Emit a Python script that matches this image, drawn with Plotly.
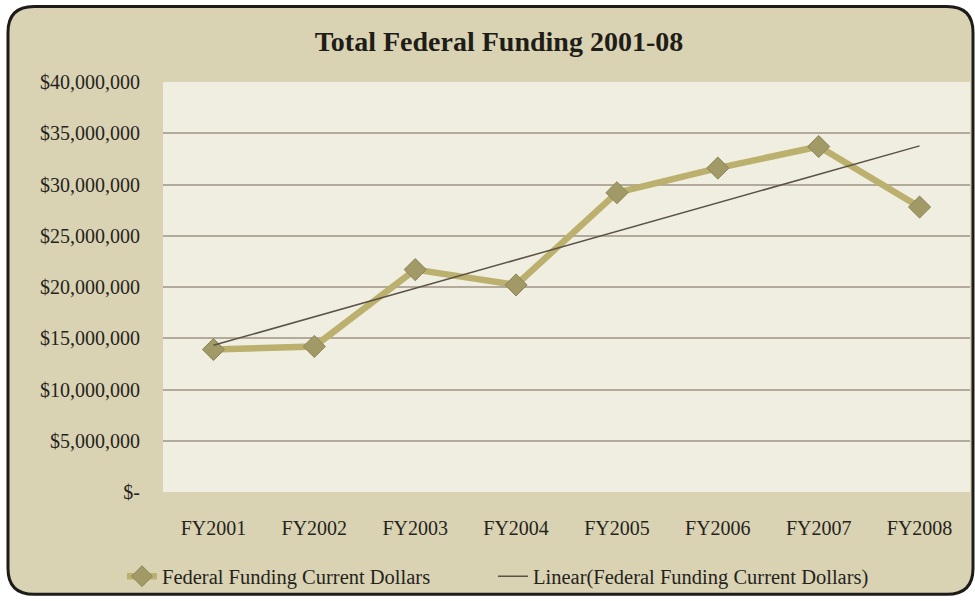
import plotly.graph_objects as go
import numpy as np

# data
years = ["FY2001", "FY2002", "FY2003", "FY2004", "FY2005", "FY2006", "FY2007", "FY2008"]
funding = [13900000, 14200000, 21700000, 20200000, 29200000, 31600000, 33700000, 27800000]
y_ticks = [0, 5000000, 10000000, 15000000, 20000000, 25000000, 30000000, 35000000, 40000000]
y_labels = ["$-", "$5,000,000", "$10,000,000", "$15,000,000", "$20,000,000",
            "$25,000,000", "$30,000,000", "$35,000,000", "$40,000,000"]

W, H = 975, 601
ML, MR, MT, MB = 163, 5, 82, 106
PW, PH = W - ML - MR, H - MT - MB

SERIF = "Liberation Serif, Times New Roman, serif"
INK = "#26231c"


def px(x, y):
    """pixel -> paper coords"""
    return (x - ML) / PW, (H - MB - y) / PH


def rounded_rect(x0, y0, x1, y1, r):
    pts = []
    a = px(x0 + r, y0); pts.append(f"M{a[0]},{a[1]}")
    a = px(x1 - r, y0); pts.append(f"L{a[0]},{a[1]}")
    c, e = px(x1, y0), px(x1, y0 + r); pts.append(f"Q{c[0]},{c[1]} {e[0]},{e[1]}")
    a = px(x1, y1 - r); pts.append(f"L{a[0]},{a[1]}")
    c, e = px(x1, y1), px(x1 - r, y1); pts.append(f"Q{c[0]},{c[1]} {e[0]},{e[1]}")
    a = px(x0 + r, y1); pts.append(f"L{a[0]},{a[1]}")
    c, e = px(x0, y1), px(x0, y1 - r); pts.append(f"Q{c[0]},{c[1]} {e[0]},{e[1]}")
    a = px(x0, y0 + r); pts.append(f"L{a[0]},{a[1]}")
    c, e = px(x0, y0), px(x0 + r, y0); pts.append(f"Q{c[0]},{c[1]} {e[0]},{e[1]}")
    pts.append("Z")
    return " ".join(pts)


# linear trendline (least squares over the series)
xi = np.arange(len(funding))
slope, icpt = np.polyfit(xi, funding, 1)
trend = slope * xi + icpt

fig = go.Figure()

fig.add_trace(go.Scatter(
    x=years, y=funding, name="Federal Funding Current Dollars",
    mode="lines+markers", legend="legend",
    line=dict(color="#bbb06e", width=6.5),
    marker=dict(symbol="diamond", size=17, color="#a29a66",
                line=dict(color="#8a8458", width=1)),
))
fig.add_trace(go.Scatter(
    x=years, y=trend, name="Linear(Federal Funding Current Dollars)",
    mode="lines", legend="legend2",
    line=dict(color="#5b5246", width=1.5),
))

leg_font = dict(family=SERIF, size=20.5, color=INK)
fig.update_layout(
    width=W, height=H,
    margin=dict(l=ML, r=MR, t=MT, b=MB),
    paper_bgcolor="white",
    plot_bgcolor="#efeee0",
    title=dict(text="<b>Total Federal Funding 2001-08</b>", x=499 / W, xanchor="center",
               y=1 - 41 / H, yanchor="middle", yref="container",
               font=dict(family=SERIF, size=28, color="#1f1d17")),
    font=dict(family=SERIF, color=INK),
    showlegend=True,
    legend=dict(orientation="h", x=px(122, 0)[0], xanchor="left", y=px(0, 580)[1],
                yanchor="middle", font=leg_font, bgcolor="rgba(0,0,0,0)"),
    legend2=dict(orientation="h", x=px(493, 0)[0], xanchor="left", y=px(0, 580)[1],
                 yanchor="middle", font=leg_font, bgcolor="rgba(0,0,0,0)"),
    shapes=[
        dict(type="path", xref="paper", yref="paper", layer="below",
             path=rounded_rect(8, 6, 973, 598, 26),
             fillcolor="#d9d3b4", line=dict(color="#1e1c1a", width=3)),
        dict(type="rect", xref="paper", yref="paper", layer="below",
             x0=0, x1=1, y0=0, y1=1, fillcolor="#efeee0", line=dict(width=0)),
    ],
)

fig.update_xaxes(
    type="category", range=[-0.5, 7.5], showgrid=False, showline=False, zeroline=False,
    ticks="", ticklabelstandoff=22,
    tickfont=dict(family=SERIF, size=20, color=INK),
)
fig.update_yaxes(
    range=[0, 40000000], tickvals=y_ticks, ticktext=y_labels,
    showgrid=True, gridcolor="#b3aa9c", gridwidth=1.5, zeroline=False, showline=False,
    ticks="", ticklabelstandoff=22,
    tickfont=dict(family=SERIF, size=20, color=INK),
)

fig.write_html("out.html", config={"displayModeBar": False},
               post_script="document.body.style.margin='0';document.body.style.overflow='hidden';")
